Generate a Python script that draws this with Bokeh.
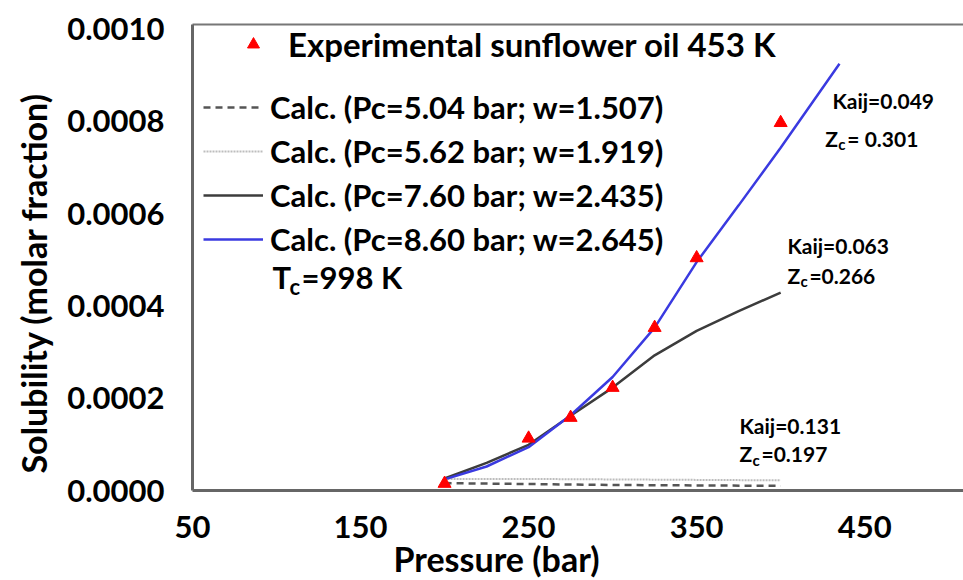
import math
from bokeh.plotting import figure
from bokeh.models import (Legend, LegendItem, Label, LinearAxis, FixedTicker,
                          NumeralTickFormatter, Range1d, Title)
from bokeh.embed import file_html
from bokeh.resources import INLINE

# ---------------- data ----------------
exp_pressure = [200, 250, 275, 300, 325, 350, 400]
exp_solubility = [0.000015, 0.000113, 0.000158, 0.000223, 0.000353, 0.000504, 0.000797]

calc504_pressure = [200, 250, 300, 350, 400]
calc504_solubility = [0.000016, 0.000014, 0.000012, 0.000011, 0.000010]

calc562_pressure = [200, 250, 300, 350, 400]
calc562_solubility = [0.000025, 0.000025, 0.000024, 0.000023, 0.000022]

calc760_pressure = [200, 225, 250, 275, 300, 325, 350, 375, 400]
calc760_solubility = [0.000026, 0.000060, 0.000099, 0.000162, 0.000223, 0.000293,
                      0.000346, 0.000389, 0.000429]

calc860_pressure = [200, 225, 250, 275, 300, 325, 350, 375, 400, 435]
calc860_solubility = [0.000024, 0.000052, 0.000094, 0.000163, 0.000246, 0.000353,
                      0.000495, 0.000618, 0.000743, 0.000925]

x_ticks = [50, 150, 250, 350, 450]
y_ticks = [0.0, 0.0002, 0.0004, 0.0006, 0.0008, 0.0010]

legend_exp = "Experimental sunflower oil 453 K"
legend_calc = ["Calc. (Pc=5.04 bar; w=1.507)",
               "Calc. (Pc=5.62 bar; w=1.919)",
               "Calc. (Pc=7.60 bar; w=2.435)",
               "Calc. (Pc=8.60 bar; w=2.645)"]

FONT = "Lato"

p = figure(width=963, height=580, output_backend="svg", toolbar_location=None,
           x_range=Range1d(50, 508.8), y_range=Range1d(0, 0.00101),
           min_border_left=192, min_border_top=24, min_border_right=0,
           min_border_bottom=90, background_fill_color="white",
           border_fill_color="white")
p.outline_line_color = None
p.xgrid.visible = False
p.ygrid.visible = False

for ax in (p.xaxis[0], p.yaxis[0]):
    ax.axis_line_color = "#666666"
    ax.axis_line_width = 3
    ax.major_tick_line_color = None
    ax.minor_tick_line_color = None
    ax.major_tick_out = 0
    ax.major_tick_in = 0
    ax.major_label_text_font = FONT
    ax.major_label_text_font_style = "bold"
    ax.major_label_text_font_size = "31px"
    ax.major_label_text_color = "black"

p.xaxis.ticker = FixedTicker(ticks=x_ticks)
p.yaxis.ticker = FixedTicker(ticks=y_ticks)
p.yaxis.formatter = NumeralTickFormatter(format="0.0000")
p.xaxis.major_label_standoff = 25
p.yaxis.major_label_standoff = 28

top_axis = LinearAxis(ticker=FixedTicker(ticks=[]), axis_line_color="#777777",
                      axis_line_width=2, major_tick_line_color=None,
                      minor_tick_line_color=None, major_label_text_color=None)
p.add_layout(top_axis, "above")

# axis titles
p.add_layout(Title(text="Pressure (bar)", align="left", offset=201,
                   standoff=-10, text_font=FONT, text_font_style="bold",
                   text_font_size="34px", text_color="black"), "below")
p.add_layout(Title(text="Solubility (molar fraction)", align="left",
                   offset=17, standoff=21, text_font=FONT,
                   text_font_style="bold", text_font_size="34px",
                   text_color="black"), "left")

# ---------------- series ----------------
r504 = p.line(calc504_pressure, calc504_solubility, line_color="#555555",
              line_width=2.5, line_dash="7 5")
r562 = p.line(calc562_pressure, calc562_solubility, line_color="#bdbdbd",
              line_width=2, line_dash="2 1")
r760 = p.line(calc760_pressure, calc760_solubility, line_color="#3c3c3c",
              line_width=2.5)
r860 = p.line(calc860_pressure, calc860_solubility, line_color="#3a3ae0",
              line_width=2.5)
rexp = p.scatter(exp_pressure, exp_solubility, marker="triangle", size=13,
                 fill_color="#ff0000", line_color="#ff0000")

# ---------------- legends ----------------
leg1 = Legend(items=[LegendItem(label=legend_exp, renderers=[rexp])],
              location=(46, 426), glyph_width=30, glyph_height=30,
              label_height=30, label_standoff=20, padding=0, margin=0,
              spacing=0, border_line_color=None, background_fill_alpha=0,
              label_text_font=FONT, label_text_font_style="bold",
              label_text_font_size="33px", label_text_color="black")
p.add_layout(leg1)

leg2 = Legend(items=[LegendItem(label=legend_calc[0], renderers=[r504]),
                     LegendItem(label=legend_calc[1], renderers=[r562]),
                     LegendItem(label=legend_calc[2], renderers=[r760]),
                     LegendItem(label=legend_calc[3], renderers=[r860])],
              location=(11, 229), glyph_width=60, glyph_height=44,
              label_height=44, label_standoff=7, padding=0, margin=0,
              spacing=0, border_line_color=None, background_fill_alpha=0,
              label_text_font=FONT, label_text_font_style="bold",
              label_text_font_size="31px", label_text_color="black")
p.add_layout(leg2)


def sub_label(x, y, main, sub, rest, size, sub_size, dx_sub, dx_rest, dy_sub):
    common = dict(text_font=FONT, text_font_style="bold", text_color="black",
                  text_baseline="middle", text_align="left")
    p.add_layout(Label(x=x, y=y, text=main, text_font_size=f"{size}px", **common))
    p.add_layout(Label(x=x, y=y, x_offset=dx_sub, y_offset=dy_sub, text=sub,
                       text_font_size=f"{sub_size}px", **common))
    p.add_layout(Label(x=x, y=y, x_offset=dx_rest, text=rest,
                       text_font_size=f"{size}px", **common))


def plain_label(x, y, text, size):
    p.add_layout(Label(x=x, y=y, text=text, text_font=FONT,
                       text_font_style="bold", text_color="black",
                       text_baseline="middle", text_align="left",
                       text_font_size=f"{size}px"))


# Tc note under legend
sub_label(97.6, 0.000462, "T", "c", "=998 K", 31, 22, 17, 29, -9)

# curve annotations
plain_label(430.8, 0.000845, "Kaij=0.049", 21)
sub_label(426.6, 0.000763, "Z", "c", "= 0.301", 21, 15, 13, 22, -6)
plain_label(404.0, 0.000531, "Kaij=0.063", 21)
sub_label(404.0, 0.000466, "Z", "c", " =0.266", 21, 15, 13, 22, -6)
plain_label(375.5, 0.000141, "Kaij=0.131", 21)
sub_label(375.5, 0.000080, "Z", "c", "=0.197", 21, 15, 13, 22, -6)

open("out.html", "w").write(file_html(p, INLINE))
